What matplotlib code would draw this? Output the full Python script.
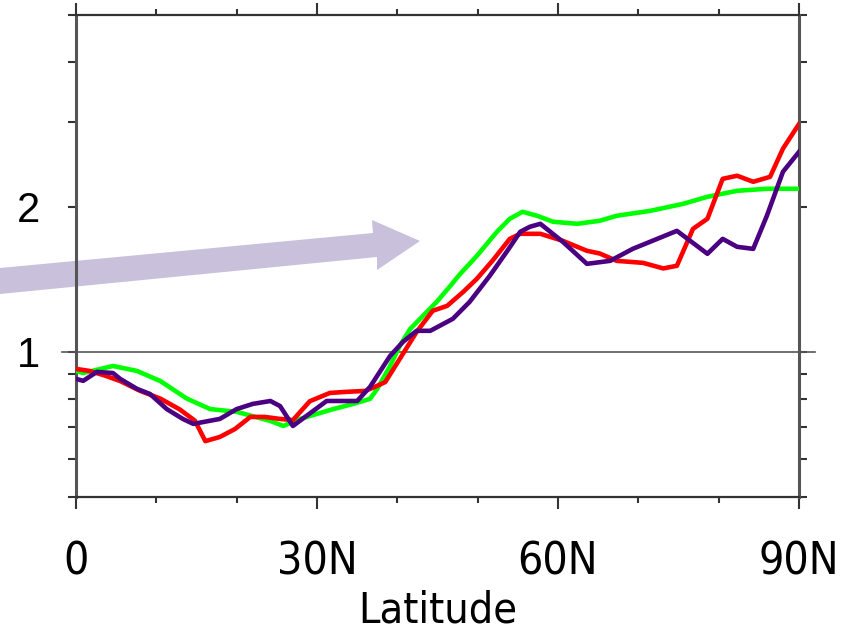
import numpy as np
import matplotlib
matplotlib.use("Agg")
import matplotlib.pyplot as plt
from matplotlib.patches import Polygon
from matplotlib.ticker import FixedLocator, NullFormatter

# ---------------- data ----------------
red_lat = [0, 1.7, 3.6, 5.5, 8.0, 10.5, 12.9, 14.8, 16.1, 17.9, 19.8, 21.7, 23.5, 25.4, 27.0,
           29.1, 31.6, 33.5, 36.0, 37.2, 38.5, 40.3, 42.4, 44.4, 46.2, 48.2, 49.9, 51.9, 54.0,
           55.3, 57.8, 60.6, 63.6, 65.2, 67.3, 70.6, 73.1, 74.8, 76.8, 78.6, 80.5, 82.3, 84.3,
           86.4, 88.0, 90.0]
red_val = [0.922, 0.913, 0.893, 0.870, 0.830, 0.800, 0.760, 0.720, 0.653, 0.666, 0.692, 0.733,
           0.733, 0.726, 0.722, 0.790, 0.822, 0.826, 0.830, 0.846, 0.866, 0.967, 1.100, 1.217,
           1.246, 1.332, 1.418, 1.550, 1.716, 1.758, 1.758, 1.700, 1.621, 1.600, 1.545, 1.530,
           1.490, 1.509, 1.800, 1.889, 2.286, 2.320, 2.254, 2.308, 2.640, 2.970]

green_lat = [0, 0.9, 4.6, 7.6, 10.5, 13.8, 16.7, 20.0, 24.2, 25.8, 27.9, 31.9, 34.5, 36.6,
             37.5, 39.1, 40.3, 41.6, 43.2, 44.9, 46.6, 47.8, 49.9, 52.4, 54.0, 55.6, 57.4,
             59.4, 62.4, 65.2, 67.3, 71.5, 75.6, 78.6, 82.3, 86.0, 90.0]
green_val = [0.913, 0.904, 0.935, 0.913, 0.870, 0.800, 0.761, 0.751, 0.719, 0.702, 0.726,
             0.760, 0.780, 0.799, 0.838, 0.935, 1.029, 1.116, 1.188, 1.270, 1.371, 1.450,
             1.582, 1.775, 1.889, 1.953, 1.916, 1.862, 1.844, 1.871, 1.916, 1.962, 2.029,
             2.098, 2.159, 2.180, 2.180]

purple_lat = [0, 0.9, 2.6, 4.6, 5.5, 7.6, 9.2, 11.3, 13.3, 14.6, 17.9, 20.0, 22.0, 24.2, 25.4,
              27.0, 31.2, 35.0, 36.6, 39.1, 40.7, 42.4, 44.1, 46.9, 49.0, 51.5, 53.7, 55.3,
              56.5, 57.8, 60.6, 63.6, 66.5, 69.3, 74.8, 78.6, 80.5, 82.3, 84.3, 86.0, 88.0, 90.0]
purple_val = [0.879, 0.871, 0.909, 0.904, 0.879, 0.838, 0.818, 0.761, 0.726, 0.709, 0.726,
              0.761, 0.780, 0.791, 0.772, 0.702, 0.791, 0.791, 0.846, 0.981, 1.049, 1.106,
              1.106, 1.171, 1.270, 1.438, 1.621, 1.775, 1.818, 1.844, 1.692, 1.523, 1.545,
              1.636, 1.783, 1.598, 1.716, 1.652, 1.636, 1.916, 2.364, 2.600]

xticks = [0, 30, 60, 90]
xticklabels = ["0", "30N", "60N", "90N"]
xminor = [10, 20, 40, 50, 70, 80]
yticks = [1, 2]
yticklabels = ["1", "2"]
yminor = [0.5, 0.6, 0.7, 0.8, 0.9, 3, 4, 5]

# ---------------- figure ----------------
W, H = 854, 634
fig = plt.figure(figsize=(W / 100, H / 100), dpi=100)
ax = fig.add_axes([76 / W, 1 - 497 / H, (799 - 76) / W, (497 - 15) / H])
ax.set_facecolor("none")

ax.plot(green_lat, green_val, color="#00ff00", lw=3.3, solid_joinstyle="round", zorder=3)
ax.plot(red_lat, red_val, color="#ff0000", lw=3.3, solid_joinstyle="round", zorder=4)
ax.plot(purple_lat, purple_val, color="#4b0082", lw=3.3, solid_joinstyle="round", zorder=5)

# reference line at 1
ax.plot([-0.02, 1.022], [1, 1], color="#555555", lw=1.2,
        transform=ax.get_yaxis_transform(), clip_on=False, zorder=2)

ax.set_yscale("log")
ax.set_xlim(0, 90)
ax.set_ylim(0.5, 5)

ax.xaxis.set_major_locator(FixedLocator(xticks))
ax.xaxis.set_minor_locator(FixedLocator(xminor))
ax.set_xticklabels(xticklabels)
ax.yaxis.set_major_locator(FixedLocator(yticks))
ax.yaxis.set_minor_locator(FixedLocator(yminor))
ax.yaxis.set_minor_formatter(NullFormatter())
ax.set_yticklabels(yticklabels)

ax.tick_params(axis="x", which="major", direction="out", length=8.6, width=1.5,
               top=True, bottom=True, pad=23, labelsize=32, color="#333333")
ax.tick_params(axis="x", which="minor", direction="out", length=4.3, width=1.5,
               top=True, bottom=True, color="#333333")
ax.tick_params(axis="y", which="both", direction="out", length=5.8, width=1.5,
               left=True, right=True, color="#333333")
ax.tick_params(axis="y", which="major", pad=20, labelsize=30)

for lab in ax.get_xticklabels():
    lab.set_fontfamily("DejaVu Sans")
    lab.set_fontstretch("condensed")
for lab in ax.get_yticklabels():
    lab.set_fontfamily("Liberation Sans")

for s in ["top", "bottom"]:
    ax.spines[s].set_linewidth(1.6)
    ax.spines[s].set_color("#333333")
for s in ["left", "right"]:
    ax.spines[s].set_linewidth(2.2)
    ax.spines[s].set_color("#555555")

ax.set_xlabel("Latitude", fontsize=31, family="DejaVu Sans", fontstretch="condensed",
              va="center")
ax.xaxis.set_label_coords(0.5, -0.236)

# lavender arrow (figure pixel coordinates, top-left origin)
arrow_px = [(0, 268), (373, 233), (372, 220), (420, 241), (377, 270), (377, 257), (0, 294)]
arrow = Polygon([(x / W, 1 - y / H) for x, y in arrow_px], closed=True,
                facecolor="#c9c0db", edgecolor="none", transform=fig.transFigure, zorder=-1)
fig.patches.append(arrow)

fig.savefig("out.png", dpi=100, facecolor="white")
